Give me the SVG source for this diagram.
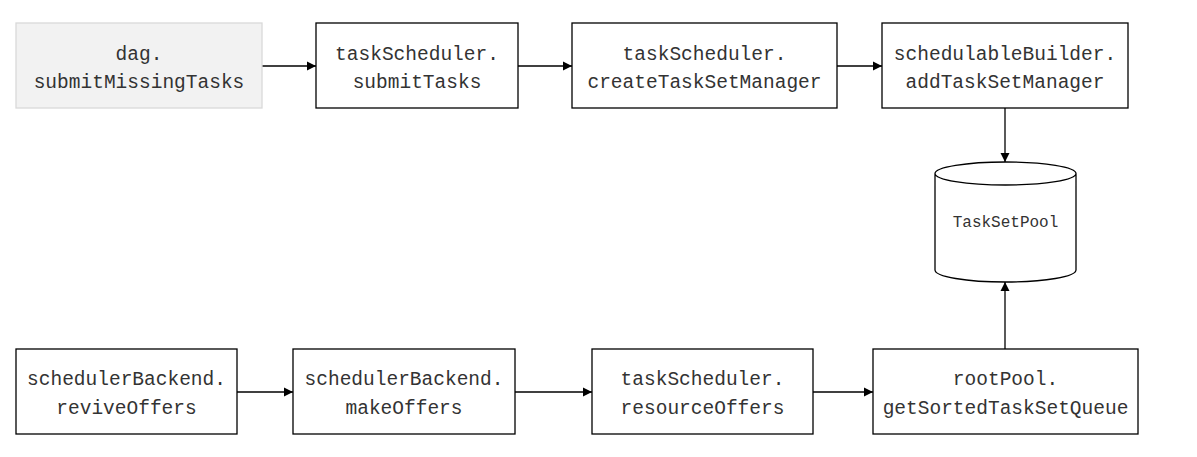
<svg xmlns="http://www.w3.org/2000/svg" width="1197" height="457" viewBox="0 0 1197 457">
<style>
.box{fill:#ffffff;stroke:#000000;stroke-width:1.3}
.start{fill:#f2f2f2;stroke:#d9d9d9;stroke-width:1.3}
.lbl{font-family:"Liberation Mono","DejaVu Sans Mono",monospace;font-size:19.5px;fill:#333333;text-anchor:middle}
.small{font-size:16px}
.edge{fill:none;stroke:#000000;stroke-width:1.3;marker-end:url(#arr)}
</style>
<defs>
<marker id="arr" markerUnits="userSpaceOnUse" markerWidth="10" markerHeight="10" refX="9" refY="5" orient="auto">
<path d="M0,0.5 L9,5 L0,9.5 z" fill="#000000"/>
</marker>
</defs>
<rect width="1197" height="457" fill="#ffffff"/>
<g id="connectors">
<path class="edge" d="M262,66 L316,66"/>
<path class="edge" d="M518,66 L572,66"/>
<path class="edge" d="M837,66 L882,66"/>
<path class="edge" d="M1005,108 L1005,162"/>
<path class="edge" d="M1005,349 L1005,282"/>
<path class="edge" d="M237,392 L293,392"/>
<path class="edge" d="M515,392 L592,392"/>
<path class="edge" d="M813,392 L873,392"/>
</g>
<g id="n1">
<rect class="start" x="16" y="23" width="246" height="85"/>
<text class="lbl" x="139" y="60">dag.</text>
<text class="lbl" x="139" y="88">submitMissingTasks</text>
</g>
<g id="n2">
<rect class="box" x="316" y="23" width="202" height="85"/>
<text class="lbl" x="417" y="60">taskScheduler.</text>
<text class="lbl" x="417" y="88">submitTasks</text>
</g>
<g id="n3">
<rect class="box" x="572" y="23" width="265" height="85"/>
<text class="lbl" x="704.5" y="60">taskScheduler.</text>
<text class="lbl" x="704.5" y="88">createTaskSetManager</text>
</g>
<g id="n4">
<rect class="box" x="882" y="23" width="246" height="85"/>
<text class="lbl" x="1005" y="60">schedulableBuilder.</text>
<text class="lbl" x="1005" y="88">addTaskSetManager</text>
</g>
<g id="pool">
<path class="box" d="M935,173.5 L935,270 A70.5,12 0 0 0 1076,270 L1076,173.5 A70.5,11.5 0 0 0 935,173.5 A70.5,11.5 0 0 0 1076,173.5"/>
<text class="lbl small" x="1005.5" y="227">TaskSetPool</text>
</g>
<g id="n5">
<rect class="box" x="16" y="349" width="221" height="85"/>
<text class="lbl" x="126.5" y="385">schedulerBackend.</text>
<text class="lbl" x="126.5" y="414">reviveOffers</text>
</g>
<g id="n6">
<rect class="box" x="293" y="349" width="222" height="85"/>
<text class="lbl" x="404" y="385">schedulerBackend.</text>
<text class="lbl" x="404" y="414">makeOffers</text>
</g>
<g id="n7">
<rect class="box" x="592" y="349" width="221" height="85"/>
<text class="lbl" x="702.5" y="385">taskScheduler.</text>
<text class="lbl" x="702.5" y="414">resourceOffers</text>
</g>
<g id="n8">
<rect class="box" x="873" y="349" width="265" height="85"/>
<text class="lbl" x="1005.5" y="385">rootPool.</text>
<text class="lbl" x="1005.5" y="414">getSortedTaskSetQueue</text>
</g>
</svg>
